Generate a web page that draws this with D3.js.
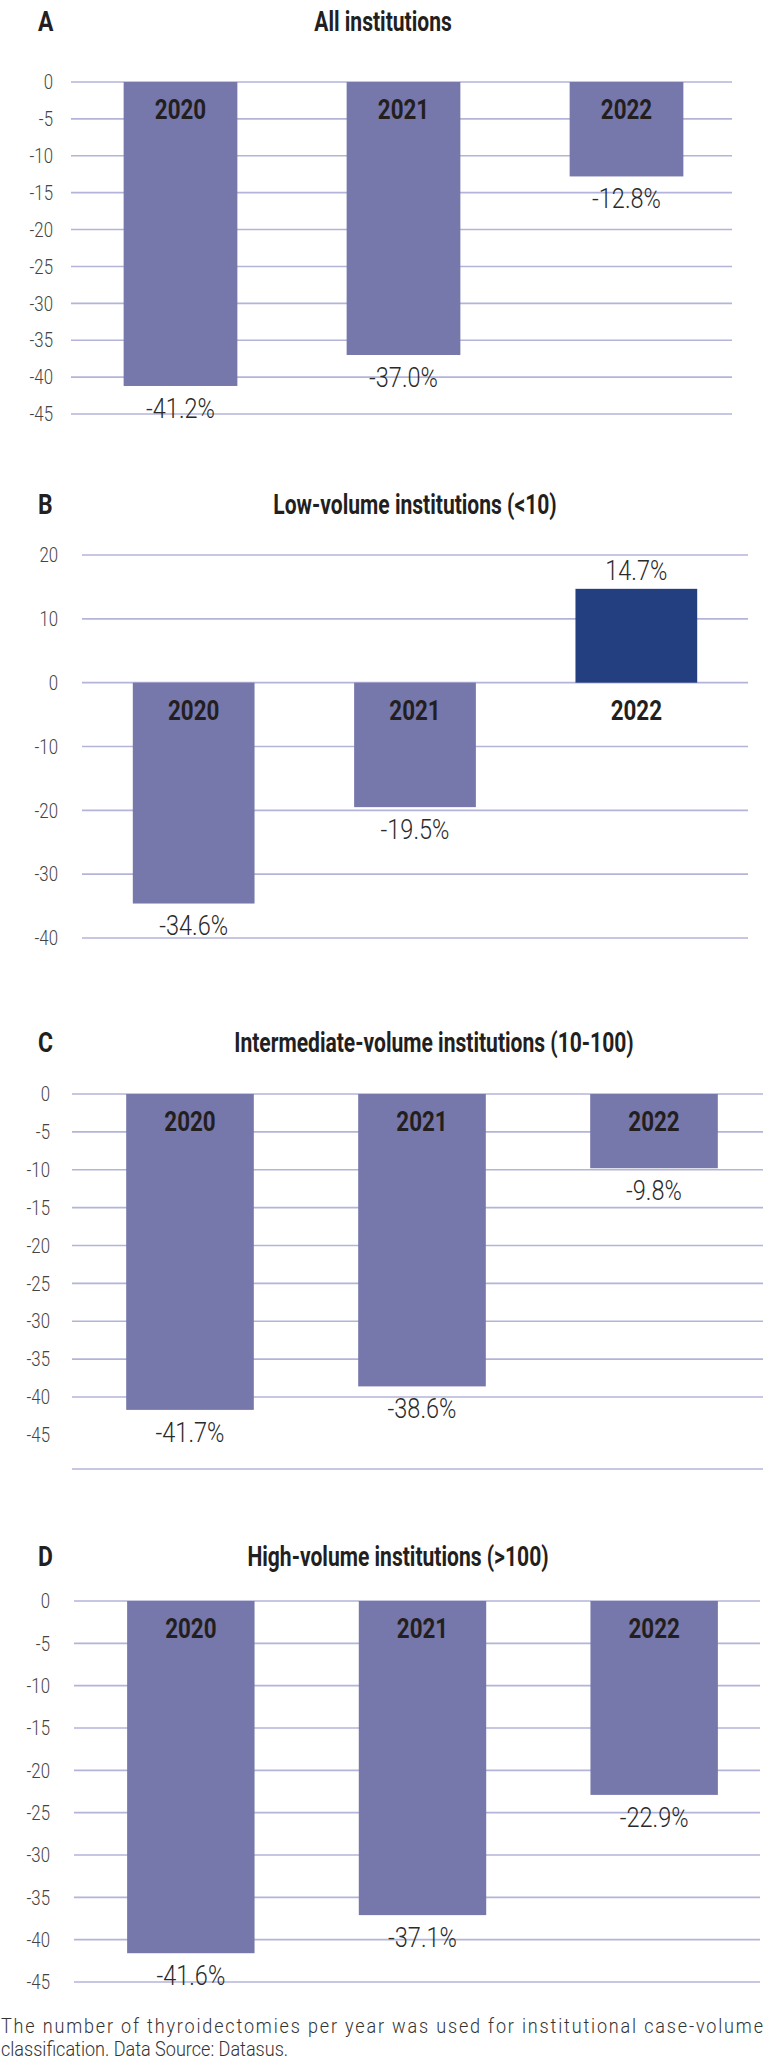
<!DOCTYPE html>
<html>
<head>
<meta charset="utf-8">
<script src="https://cdn.jsdelivr.net/npm/d3@7"></script>
<style>
  body { margin: 0; background: #fff; }
  svg text { font-family: "Roboto", "DejaVu Sans Condensed", sans-serif; }
</style>
</head>
<body>
<svg id="chart" width="765" height="2064"></svg>
<script>
const years = ["2020", "2021", "2022"];

const allValues = [-41.2, -37.0, -12.8];
const lowValues = [-34.6, -19.5, 14.7];
const intermediateValues = [-41.7, -38.6, -9.8];
const highValues = [-41.6, -37.1, -22.9];

const panelLetters = ["A", "B", "C", "D"];
const panelTitles = [
  "All institutions",
  "Low-volume institutions (<10)",
  "Intermediate-volume institutions (10-100)",
  "High-volume institutions (>100)"
];

const ticksFive = [0, -5, -10, -15, -20, -25, -30, -35, -40, -45];
const ticksTen = [20, 10, 0, -10, -20, -30, -40];

const footerLines = [
  "The number of thyroidectomies per year was used for institutional case-volume",
  "classification. Data Source: Datasus."
];

const COLORS = {
  bar: "#7677aa",
  highlight: "#233f80",
  grid: "#b4b4da",
  text: "#231f20"
};

const width = 765;
const svg = d3.select("#chart");

// layout of each panel (pixels only)
const layouts = [
  { values: allValues, ticks: ticksFive, domain: [0, -45], yTop: 82, yBottom: 414,
    lineX: [71, 732], band: [69, 738], pad: 0.49, titleY: 22, titleX: 383, tickX: 53 },
  { values: lowValues, ticks: ticksTen, domain: [20, -40], yTop: 555, yBottom: 938,
    lineX: [82, 748], band: [83, 747], pad: 0.45, titleY: 505, titleX: 415, tickX: 58, highlight: 2 },
  { values: intermediateValues, ticks: ticksFive, domain: [0, -40], yTop: 1094, yBottom: 1397,
    lineX: [72, 763], band: [74, 770], pad: 0.45, titleY: 1043, titleX: 434, tickX: 50,
    gridSkip: -45, extraLine: -49.5 },
  { values: highValues, ticks: ticksFive, domain: [0, -45], yTop: 1601, yBottom: 1982,
    lineX: [74, 760], band: [75, 770], pad: 0.45, titleY: 1557, titleX: 398, tickX: 50 }
];

layouts.forEach((p, i) => drawPanel(p, i));
drawFooter();

// text squeezed horizontally to imitate the condensed face of the original
function squeeze(sel, x, y, sx) {
  return sel
    .attr("x", 0)
    .attr("y", 0)
    .attr("transform", (d, i) => {
      const tx = typeof x === "function" ? x(d, i) : x;
      const ty = typeof y === "function" ? y(d, i) : y;
      return `translate(${tx},${ty}) scale(${sx},1)`;
    });
}

function drawPanel(p, i) {
  const g = svg.append("g");

  const y = d3.scaleLinear().domain(p.domain).range([p.yTop, p.yBottom]);
  const x = d3.scaleBand().domain(years).range(p.band).paddingInner(p.pad).paddingOuter(p.pad / 2);

  // Letter and title
  g.append("text")
    .call(squeeze, 38, p.titleY, 0.85)
    .attr("dominant-baseline", "central")
    .style("font-size", "27px")
    .style("font-weight", "bold")
    .style("fill", COLORS.text)
    .text(panelLetters[i]);

  g.append("text")
    .call(squeeze, p.titleX, p.titleY, 0.78)
    .attr("text-anchor", "middle")
    .attr("dominant-baseline", "central")
    .style("font-size", "27px")
    .style("font-weight", "bold")
    .style("fill", COLORS.text)
    .text(panelTitles[i]);

  // Grid
  const gridValues = p.ticks.filter(t => t !== p.gridSkip);
  if (p.extraLine !== undefined) gridValues.push(p.extraLine);

  g.selectAll(".grid")
    .data(gridValues)
    .enter()
    .append("line")
    .attr("x1", p.lineX[0])
    .attr("x2", p.lineX[1])
    .attr("y1", d => y(d))
    .attr("y2", d => y(d))
    .style("stroke", COLORS.grid)
    .style("stroke-width", "1.6px");

  // Tick labels
  g.selectAll(".tick")
    .data(p.ticks)
    .enter()
    .append("text")
    .call(squeeze, p.tickX, d => y(d), 0.8)
    .attr("text-anchor", "end")
    .attr("dominant-baseline", "central")
    .style("font-size", "21px")
    .style("font-weight", 300)
    .style("fill", "#444")
    .text(d => d);

  // Bars
  g.selectAll(".bar")
    .data(p.values)
    .enter()
    .append("rect")
    .attr("x", (d, j) => x(years[j]))
    .attr("width", x.bandwidth())
    .attr("y", d => Math.min(y(d), y(0)))
    .attr("height", d => Math.abs(y(d) - y(0)))
    .style("fill", (d, j) => (j === p.highlight ? COLORS.highlight : COLORS.bar));

  // Year labels
  g.selectAll(".year")
    .data(years)
    .enter()
    .append("text")
    .call(squeeze, d => x(d) + x.bandwidth() / 2, y(0) + 27, 0.8)
    .attr("text-anchor", "middle")
    .attr("dominant-baseline", "central")
    .style("font-size", "28px")
    .style("font-weight", "bold")
    .style("fill", COLORS.text)
    .text(d => d);

  // Value labels
  g.selectAll(".value")
    .data(p.values)
    .enter()
    .append("text")
    .call(squeeze,
      (d, j) => x(years[j]) + x.bandwidth() / 2,
      d => (d < 0 ? y(d) + 22 : y(d) - 19),
      0.84)
    .attr("text-anchor", "middle")
    .attr("dominant-baseline", "central")
    .style("font-size", "28px")
    .style("font-weight", 300)
    .style("fill", "#2a2a2a")
    .text(d => d.toFixed(1) + "%");
}

function drawFooter() {
  const sx = 0.86;
  svg.selectAll(".footer")
    .data(footerLines)
    .enter()
    .append("text")
    .call(squeeze, 1, (d, i) => 2026 + i * 23, sx)
    .attr("dominant-baseline", "central")
    .attr("textLength", (d, i) => (i === 0 ? (width - 3) / sx : null))
    .attr("lengthAdjust", "spacing")
    .style("font-size", "21px")
    .style("font-weight", 300)
    .style("fill", "#333")
    .text(d => d);
}
</script>
</body>
</html>
